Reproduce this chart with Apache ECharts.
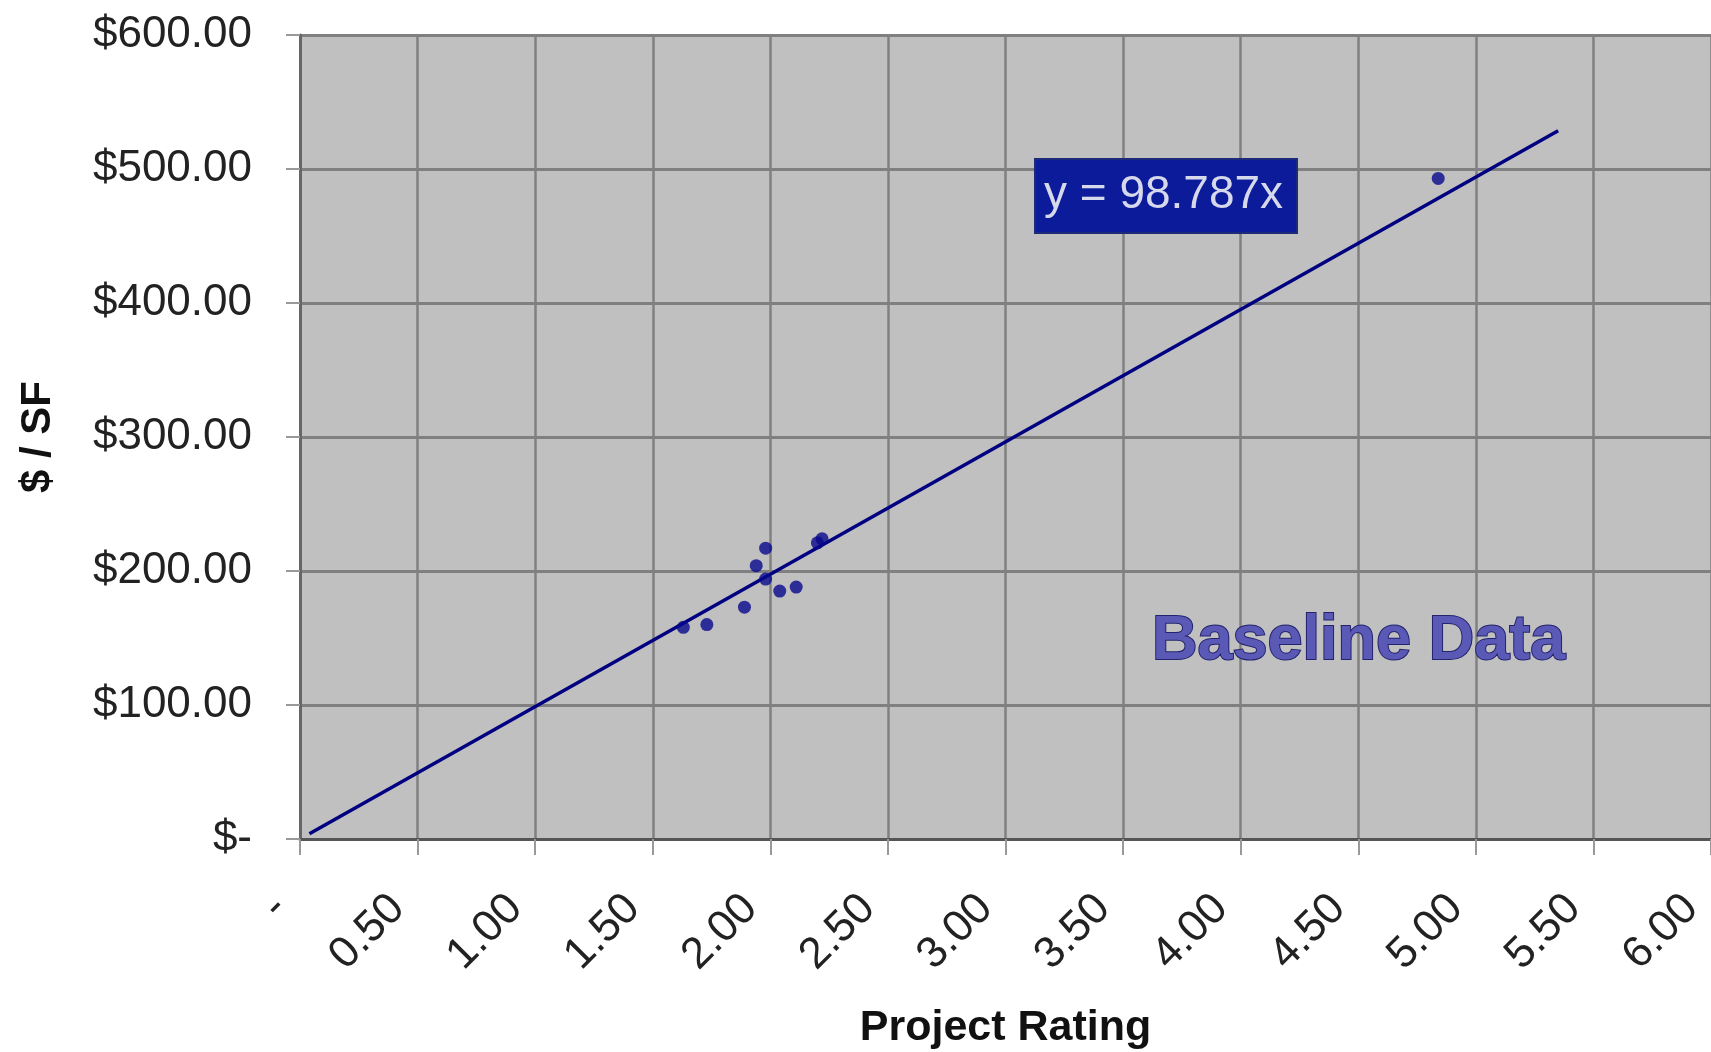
<!DOCTYPE html>
<html>
<head>
<meta charset="utf-8">
<title>Baseline Data</title>
<script src="https://cdn.jsdelivr.net/npm/echarts@6/dist/echarts.min.js"></script>
<style>
  html, body { margin: 0; padding: 0; background: #fff; }
  #chart { width: 1711px; height: 1052px; }
</style>
</head>
<body>
<div id="chart"></div>
<script>
// Project Rating vs $ / SF, with a forced-through-origin linear trend

const ratings = [1.63, 1.73, 1.89, 1.94, 1.98, 1.98, 2.04, 2.11, 2.20, 2.22, 4.84];
const costs   = [158, 160, 173, 204, 217, 194, 185, 188, 221, 224, 493];

// trendline endpoints as drawn (y = 98.787x)
const trendX = [0.04, 5.35];
const trendY = [3.95, 528.51];

const xTickLabels = ['-', '0.50', '1.00', '1.50', '2.00', '2.50', '3.00', '3.50', '4.00', '4.50', '5.00', '5.50', '6.00'];
const yTickLabels = ['$-', '$100.00', '$200.00', '$300.00', '$400.00', '$500.00', '$600.00'];

const equationText = 'y = 98.787x';
const watermarkText = 'Baseline Data';

const FONT = '"Liberation Sans", Arial, sans-serif';

const chart = echarts.init(document.getElementById('chart'));

chart.setOption({
  animation: false,
  backgroundColor: '#ffffff',
  grid: {
    left: 300, right: 0, top: 35, bottom: 213,
    show: true,
    backgroundColor: '#c0c0c0',
    borderWidth: 0,
    outerBoundsMode: 'none'
  },
  xAxis: {
    type: 'value',
    min: 0, max: 6, interval: 0.5,
    name: 'Project Rating',
    nameLocation: 'middle',
    nameGap: 168,
    nameMoveOverlap: false,
    nameTextStyle: { fontFamily: FONT, fontWeight: 'bold', fontSize: 43, color: '#111' },
    axisLine: { show: true, onZero: false, lineStyle: { color: '#555', width: 3 } },
    axisTick: { show: true, length: 16, lineStyle: { color: '#999', width: 2 } },
    axisLabel: {
      rotate: 45,
      margin: 43,
      padding: [0, 28, 0, 0],
      fontFamily: FONT, fontSize: 44, color: '#222',
      showMaxLabel: true, showMinLabel: true,
      formatter: (v) => xTickLabels[Math.round(v / 0.5)]
    },
    splitLine: { show: true, lineStyle: { color: '#808080', width: 2.5 } }
  },
  yAxis: {
    type: 'value',
    min: 0, max: 600, interval: 100,
    name: '$ / SF',
    nameLocation: 'middle',
    nameGap: 241,
    nameRotate: 90,
    nameMoveOverlap: false,
    nameTextStyle: { fontFamily: FONT, fontWeight: 'bold', fontSize: 42, color: '#111' },
    axisLine: { show: true, lineStyle: { color: '#666', width: 3 } },
    axisTick: { show: true, length: 14, lineStyle: { color: '#999', width: 2 } },
    axisLabel: {
      margin: 48,
      fontFamily: FONT, fontSize: 44, color: '#222',
      formatter: (v) => yTickLabels[Math.round(v / 100)]
    },
    splitLine: { show: true, lineStyle: { color: '#808080', width: 3 } }
  },
  series: [
    {
      type: 'line',
      data: trendX.map((x, i) => [x, trendY[i]]),
      symbol: 'none',
      lineStyle: { color: '#000080', width: 3.5 },
      z: 3
    },
    {
      type: 'scatter',
      data: ratings.map((x, i) => [x, costs[i]]),
      symbol: 'circle',
      symbolSize: 13,
      itemStyle: { color: '#08088c' },
      z: 4
    }
  ],
  graphic: [
    {
      type: 'rect',
      left: 1034, top: 158,
      shape: { width: 262, height: 74 },
      style: { fill: '#0b1b9a', stroke: '#1d2a7a', lineWidth: 2 },
      z: 10
    },
    {
      type: 'text',
      left: 1044, top: 172,
      style: { text: equationText, fontFamily: FONT, fontSize: 46, fill: '#d6d8ec' },
      z: 11
    },
    {
      type: 'text',
      left: 1151, top: 609,
      style: {
        text: watermarkText, fontFamily: FONT, fontWeight: 'bold', fontSize: 63,
        fill: '#5a5ab6', stroke: '#24246e', lineWidth: 2
      },
      z: 10
    }
  ]
});
</script>
</body>
</html>
